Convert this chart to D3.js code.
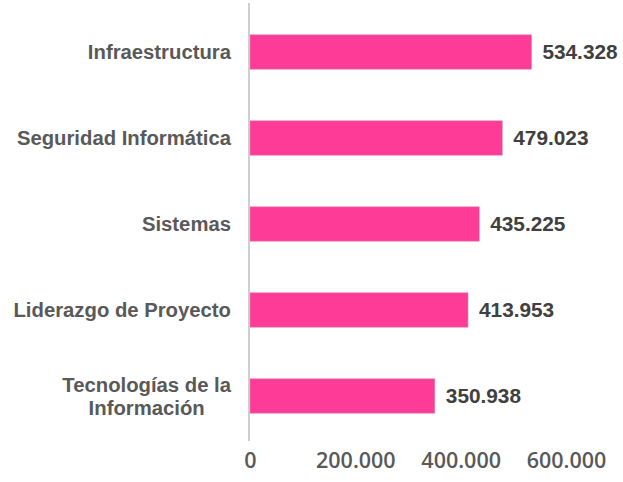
<!DOCTYPE html>
<meta charset="utf-8">
<style>
	body { margin: 0; background: #fff; }
	.cat { font: bold 20.3px "Liberation Sans", Arial, sans-serif; fill: #595959; }
	.val { font: bold 20.8px "Liberation Sans", Arial, sans-serif; fill: #404040; }
	.tick text { font: 600 21.5px "Open Sans", sans-serif; fill: #595959; }
</style>
<body>
<svg width="623" height="482" id="chart"></svg>
<script src="https://d3js.org/d3.v7.min.js"></script>
<script>
	// data
	var categories = ["Infraestructura", "Seguridad Informática", "Sistemas",
		"Liderazgo de Proyecto", "Tecnologías de la\nInformación"];
	var values = [534328, 479023, 435225, 413953, 350938];
	var tickValues = [0, 200000, 400000, 600000];
	var tickLabels = ["0", "200.000", "400.000", "600.000"];

	var svg = d3.select("#chart");
	var fmt = function(v){ return d3.format(",")(v).replace(/,/g, "."); };

	var x = d3.scaleLinear().domain([0, 600000]).range([250, 566]);
	var y = d3.scaleBand().domain(categories).range([9, 439])
		.paddingInner(0.6).paddingOuter(0.3);

	// bars
	svg.selectAll("rect.bar")
		.data(values)
		.enter().append("rect")
		.attr("class", "bar")
		.attr("x", x(0))
		.attr("y", function(d, i){ return y(categories[i]); })
		.attr("width", function(d){ return x(d) - x(0); })
		.attr("height", y.bandwidth())
		.style("fill", "#fe3b97")
		.style("stroke", "#d88fae")
		.style("stroke-width", 0.6);

	// vertical axis line
	svg.append("line")
		.attr("x1", 249).attr("x2", 249)
		.attr("y1", 3).attr("y2", 441)
		.style("stroke", "#bfbfbf")
		.style("stroke-width", 1.5);

	// category labels; multi-line ones are centred on their widest line
	svg.selectAll("text.cat")
		.data(categories)
		.enter().append("text")
		.attr("class", "cat")
		.attr("text-anchor", "middle")
		.each(function(d){
			var lines = d.split("\n");
			var cy = y(d) + y.bandwidth() / 2;
			var t = d3.select(this);
			var spans = lines.map(function(l, k){
				return t.append("tspan")
					.attr("y", cy + (k - (lines.length - 1) / 2) * 23)
					.attr("dy", "0.36em")
					.text(l);
			});
			var w = d3.max(spans, function(s){ return s.node().getComputedTextLength(); });
			spans.forEach(function(s){ s.attr("x", 231 - w / 2); });
		});

	// value labels
	svg.selectAll("text.val")
		.data(values)
		.enter().append("text")
		.attr("class", "val")
		.attr("x", function(d){ return x(d) + 11; })
		.attr("y", function(d, i){ return y(categories[i]) + y.bandwidth() / 2; })
		.attr("dy", "0.36em")
		.text(fmt);

	// x axis ticks (labels only)
	var xAxis = d3.axisBottom(x)
		.tickValues(tickValues)
		.tickFormat(function(d, i){ return tickLabels[i]; })
		.tickSize(0)
		.tickPadding(0);
	var gx = svg.append("g").attr("transform", "translate(0,453)").call(xAxis);
	gx.select(".domain").remove();
	gx.selectAll(".tick text").attr("dy", "0.71em");
</script>
</body>
